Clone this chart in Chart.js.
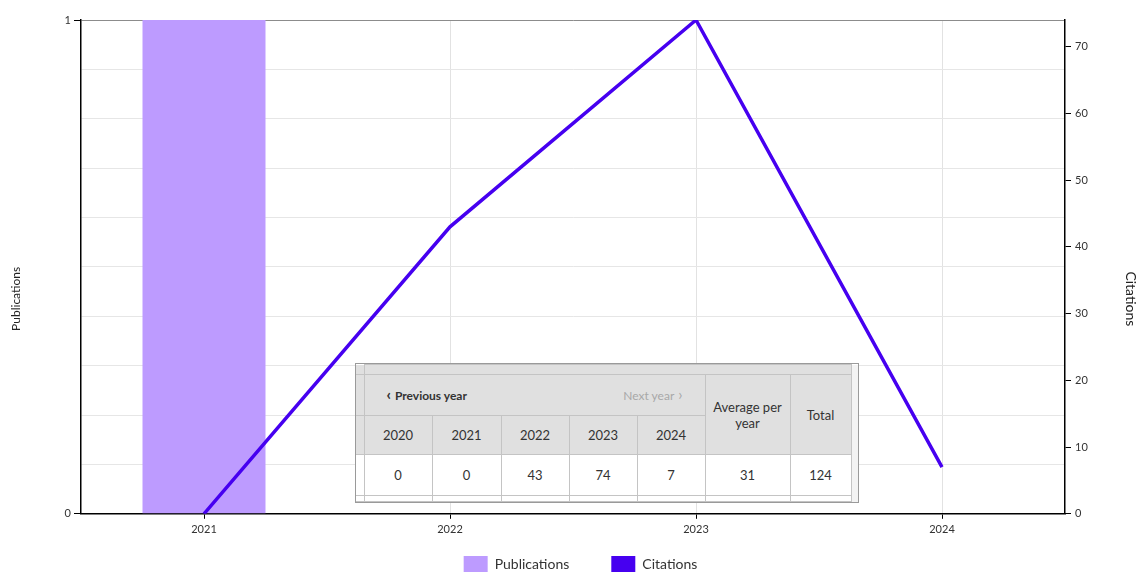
<!DOCTYPE html>
<html>
<head>
<meta charset="utf-8">
<script src="https://cdn.jsdelivr.net/npm/chart.js@4.4.1/dist/chart.umd.min.js"></script>
<style>
  html, body { margin: 0; padding: 0; background: #fff; overflow: hidden; }
  #wrap { position: relative; width: 1137px; height: 572px; overflow: hidden; }
  #wrap canvas { position: absolute; left: 0; top: 0; }
  .tbl-box {
    position: absolute; left: 355px; top: 363px; width: 502px; height: 138px;
    border: 1px solid #9a9a9a; overflow: hidden; background: #fff;
    font-family: Lato, "Noto Sans", sans-serif; color: #333;
  }
  .tbl-box table { border-collapse: collapse; table-layout: fixed; font-size: 13px; }
  .tbl-box td { border: 1px solid #c4c4c4; padding: 0; text-align: center; }
  .tbl-box .hd { background: #e0e0e0; }
  .tbl-box .sb { background: #f3f3f3; border: none; border-left: 1px solid #c4c4c4; }
  .nav { display: flex; justify-content: space-between; padding: 0 22px 0 22px; font-size: 12px; }
  .nav .prev { font-weight: bold; }
  .nav .next { color: #a8a8a8; }
  .nav b { font-size: 15px; line-height: 12px; margin-right: 4px; }
  .nav .next b { margin: 0 0 0 4px; font-weight: normal; }
</style>
</head>
<body>
<div id="wrap">
  <canvas id="pubChart" width="1137" height="572"></canvas>
  <div class="tbl-box" id="tblBox"></div>
</div>
<script>
const years = ["2021", "2022", "2023", "2024"];
const publications = [1, 0, 0, 0];
const citations = [0, 43, 74, 7];

const tableYears = ["2020", "2021", "2022", "2023", "2024"];
const tableCitations = [0, 0, 43, 74, 7];
const averagePerYear = 31;
const totalCitations = 124;

const PUB_COLOR = "#bd9bff";
const CIT_COLOR = "#4600f0";

Chart.defaults.font.family = "Lato, 'Noto Sans', sans-serif";
Chart.defaults.color = "#333";

function buildTable() {
  const box = document.getElementById("tblBox");
  const yearCells = tableYears.map((y) => `<td class="hd">${y}</td>`).join("");
  const valueCells = tableCitations.map((v) => `<td>${v}</td>`).join("");
  const emptyCells = tableYears.map(() => "<td></td>").join("");
  box.innerHTML = `
    <table>
      <colgroup>
        <col style="width:8px"><col style="width:68px"><col style="width:69px"><col style="width:68px">
        <col style="width:68px"><col style="width:68px"><col style="width:85px"><col style="width:61px"><col style="width:7px">
      </colgroup>
      <tr style="height:10px"><td class="hd" style="border-top:none;border-left:none"></td><td class="hd" colspan="7"></td><td class="sb" rowspan="5"></td></tr>
      <tr style="height:41px">
        <td class="hd" style="border-left:none"></td>
        <td class="hd" colspan="5"><div class="nav"><span class="prev"><b>&#8249;</b>Previous year</span><span class="next">Next year<b>&#8250;</b></span></div></td>
        <td class="hd" rowspan="2">Average per<br>year</td>
        <td class="hd" rowspan="2">Total</td>
      </tr>
      <tr style="height:39px"><td class="hd" style="border-left:none"></td>${yearCells}</tr>
      <tr style="height:41px"><td style="border-left:none"></td>${valueCells}<td>${averagePerYear}</td><td>${totalCitations}</td></tr>
      <tr style="height:6px"><td style="border-left:none"></td>${emptyCells}<td></td><td></td></tr>
    </table>`;
}

// axis titles sit a bit below the middle of the plot, so draw them here
const axisTitles = {
  id: "axisTitles",
  afterDraw(chart) {
    const { ctx, chartArea } = chart;
    const midY = (chartArea.top + chartArea.bottom) / 2 + 32;
    ctx.save();
    ctx.fillStyle = "#222";
    ctx.textAlign = "center";
    ctx.textBaseline = "middle";
    ctx.font = "12px Lato, 'Noto Sans', sans-serif";
    ctx.translate(16, midY);
    ctx.rotate(-Math.PI / 2);
    ctx.fillText("Publications", 0, 0);
    ctx.restore();
    ctx.save();
    ctx.fillStyle = "#222";
    ctx.textAlign = "center";
    ctx.textBaseline = "middle";
    ctx.font = "14px Lato, 'Noto Sans', sans-serif";
    ctx.translate(1131, midY);
    ctx.rotate(Math.PI / 2);
    ctx.fillText("Citations", 0, 0);
    ctx.restore();
  },
};

// wide gap between legend items but a short legend box:
// reserve less height, then draw it from a box that starts higher
const legendSqueeze = {
  id: "legendSqueeze",
  afterInit(chart) {
    const lg = chart.legend;
    if (!lg) return;
    const fit = lg.fit.bind(lg);
    lg.fit = function () {
      fit();
      this.height = 32;
    };
    const draw = lg.draw.bind(lg);
    lg.draw = function () {
      const { top, bottom, left, right } = this;
      this.top = top - 26;
      this.bottom = chart.height;
      this.left = left + 12;
      this.right = right + 12;
      draw();
      Object.assign(this, { top, bottom, left, right });
    };
  },
};

function initChart() {
  const canvas = document.getElementById("pubChart");
  new Chart(canvas, {
    type: "bar",
    data: {
      labels: years,
      datasets: [
        {
          label: "Publications",
          data: publications,
          backgroundColor: PUB_COLOR,
          borderColor: PUB_COLOR,
          yAxisID: "y",
          barPercentage: 0.5,
          categoryPercentage: 1,
          order: 1,
        },
        {
          type: "line",
          label: "Citations",
          data: citations,
          borderColor: CIT_COLOR,
          backgroundColor: CIT_COLOR,
          borderWidth: 3.5,
          pointRadius: 0,
          tension: 0,
          yAxisID: "y1",
          order: 0,
        },
      ],
    },
    options: {
      responsive: false,
      animation: false,
      layout: { padding: { top: 20, bottom: 0 } },
      plugins: {
        tooltip: { enabled: false },
        legend: {
          position: "bottom",
          labels: {
            boxWidth: 24,
            boxHeight: 16,
            padding: 42,
            color: "#333",
            font: { size: 14 },
            sort: (a, b) => a.datasetIndex - b.datasetIndex,
            generateLabels: (chart) =>
              Chart.defaults.plugins.legend.labels.generateLabels(chart).map((l) => ({ ...l, lineWidth: 0 })),
          },
        },
      },
      scales: {
        x: {
          offset: true,
          grid: { offset: false, color: "#e2e2e2", tickColor: "#000", tickLength: 5 },
          border: { color: "#000", width: 1.5 },
          ticks: { font: { size: 11 }, padding: 4, color: "#333" },
        },
        y: {
          position: "left",
          min: 0,
          max: 1,
          ticks: {
            stepSize: 0.1,
            font: { size: 11 },
            padding: 3,
            callback: (v) => (v === 0 || v === 1 ? String(v) : ""),
          },
          grid: {
            color: (ctx) => (ctx.tick && ctx.tick.value === 1 ? "#8c8c8c" : "#e6e6e6"),
            tickColor: (ctx) => (ctx.tick && (ctx.tick.value === 0 || ctx.tick.value === 1) ? "#000" : "rgba(0,0,0,0)"),
            tickLength: 7,
          },
          border: { color: "#000", width: 1.5 },
          afterFit: (scale) => { scale.width = 81; },
        },
        y1: {
          position: "right",
          min: 0,
          max: 74,
          ticks: { stepSize: 10, font: { size: 11 }, padding: 4 },
          afterBuildTicks: (scale) => { scale.ticks = scale.ticks.filter((t) => t.value % 10 === 0); },
          grid: { drawOnChartArea: false, tickColor: "#000", tickLength: 6 },
          border: { color: "#000", width: 1.5 },
          afterFit: (scale) => { scale.width = 72; },
        },
      },
    },
    plugins: [axisTitles, legendSqueeze],
  });
}

buildTable();
initChart();
</script>
</body>
</html>
